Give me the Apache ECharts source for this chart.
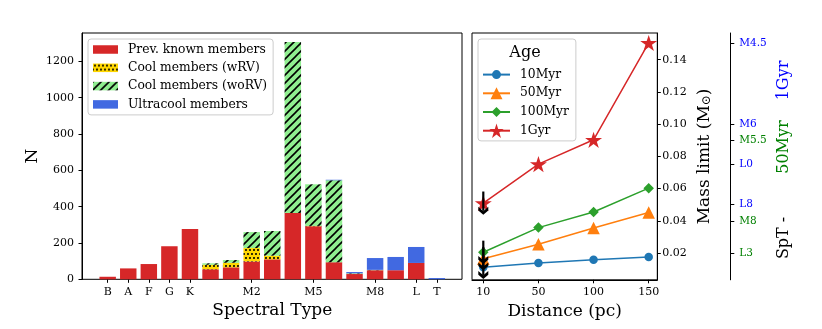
<!DOCTYPE html>
<html><head><meta charset="utf-8">
<script src="https://cdn.jsdelivr.net/npm/echarts@6/dist/echarts.min.js"></script>
<style>html,body{margin:0;padding:0;background:#fff}#c{width:822px;height:329px}</style>
</head><body><div id="c"></div>
<script>
// ---- data: left panel (counts per spectral type) ----
const spectralTypes = ['B','A','F','G','K','M0','M1','M2','M3','M4','M5','M6','M7','M8','M9','L','T'];
const tickTypes = ['B','A','F','G','K','M2','M5','M8','L','T'];
const prevKnown = [14,60,84,182,277,55,66,98,110,365,292,94,29,50,50,90,0];
const coolWRV   = [0,0,0,0,0,25,25,74,20,0,2,0,1,0,0,0,0];
const coolWoRV  = [0,0,0,0,0,8,15,88,136,941,229,451,3,2,0,0,0];
const ultracool = [0,0,0,0,0,0,0,0,0,0,0,3,7,65,73,88,7];
const countTicks = [0,200,400,600,800,1000,1200];

// ---- data: right panel (mass limit vs distance) ----
const distances = ['10','50','100','150'];
const mass10Myr  = [0.0112,0.0138,0.0158,0.0175];
const mass50Myr  = [0.0165,0.0255,0.0355,0.0452];
const mass100Myr = [0.0205,0.0358,0.0455,0.0603];
const mass1Gyr   = [0.051,0.0752,0.0903,0.1504];
const massTicks  = [0.02,0.04,0.06,0.08,0.10,0.12,0.14];

// ---- data: spectral-type twin axis ----
const sptMass   = [0.15,0.10,0.09,0.075,0.05,0.04,0.02];
const sptLabels = ['M4.5','M6','M5.5','L0','L8','M8','L3'];
const sptAge    = ['1Gyr','1Gyr','50Myr','1Gyr','1Gyr','50Myr','50Myr'];

// ---- styles ----
const FONT = 'DejaVu Serif';
const ageColor = {'1Gyr':'#0000ff','50Myr':'#008000'};
function makePattern(bg, draw){
  const c = document.createElement('canvas'); c.width = 8; c.height = 8;
  const g = c.getContext('2d'); g.fillStyle = bg; g.fillRect(0,0,8,8); draw(g);
  return {image: c, repeat: 'repeat'};
}
const dotPattern = makePattern('#ffd700', g => {
  g.fillStyle = '#000';
  [[2,2],[6,2],[0,6],[4,6],[8,6]].forEach(([x,y]) => { g.beginPath(); g.arc(x,y,1.05,0,Math.PI*2); g.fill(); });
});
const stripePattern = makePattern('#90ee90', g => {
  g.strokeStyle = '#000'; g.lineWidth = 1.6; g.beginPath();
  g.moveTo(-1,9); g.lineTo(9,-1); g.moveTo(-1,1); g.lineTo(1,-1); g.moveTo(7,9); g.lineTo(9,7); g.stroke();
});
// marker shapes drawn inside a 100x100 box, shape occupying `r` of it (so legend icons keep relative sizes)
const corners = 'M0,0 L0.01,0 L0,0.01 Z M100,100 L99.99,100 L100,99.99 Z ';
function circleSym(r){ const a = 50*r; return 'path://' + corners + `M${50-a},50 A${a},${a} 0 1,0 ${50+a},50 A${a},${a} 0 1,0 ${50-a},50 Z`; }
function triSym(r){ const a = 50*r; return 'path://' + corners + `M50,${50-a} L${50+a},${50+a} L${50-a},${50+a} Z`; }
function diaSym(r){ const a = 50*r; return 'path://' + corners + `M50,${50-a} L${50+a},50 L50,${50+a} L${50-a},50 Z`; }
const starPath = 'path://M50,0 L61.8,36.2 L100,36.2 L69.1,58.6 L80.9,95.1 L50,72.6 L19.1,95.1 L30.9,58.6 L0,36.2 L38.2,36.2 Z';
const chevronPath = 'path://M0,0 L5,4.5 L10,0 L10,3.8 L5,8.3 L0,3.8 Z';
const arrowUp = 0.0072, arrowHead = 0.0048;

const isTick = (i, v) => tickTypes.indexOf(v) >= 0;
const sptIndex = v => sptMass.findIndex(m => Math.abs(m - Number(v)) < 1e-6);

const barBase = {type:'bar', stack:'n', barWidth:'80%', xAxisIndex:0, yAxisIndex:0};
const lineBase = {type:'line', xAxisIndex:1, yAxisIndex:1, lineStyle:{width:1.5}, symbolKeepAspect:true, z:3};
const massSeries = [mass10Myr, mass50Myr, mass100Myr, mass1Gyr];
const arrows = massSeries.map(arr => ({
  type:'line', xAxisIndex:1, yAxisIndex:1, silent:true, z:6,
  lineStyle:{color:'#000', width:2.2}, itemStyle:{color:'#000'},
  data:[{value:[0, arr[0] + arrowUp], symbol:'none'},
        {value:[0, arr[0] - arrowHead], symbol:chevronPath, symbolSize:[10,8]}]
}));

const axisLineBlack = {show:true, onZero:false, lineStyle:{color:'#000', width:1}};
const tickStyle = {show:true, length:3.5, lineStyle:{color:'#000', width:1}};
const countMax = 1356, massMin = 0.0034, massMax = 0.1566;

const option = {
  animation:false,
  backgroundColor:'#fff',
  textStyle:{fontFamily:FONT},
  grid:[
    {left:97.4, top:33, width:349.7, height:246.3},
    {left:472, top:33, width:185.3, height:246.8, show:true, borderColor:'#000', borderWidth:1},
    {left:82, top:33, width:380, height:246.3, show:true, borderColor:'#000', borderWidth:1}
  ],
  xAxis:[
    {type:'category', gridIndex:0, data:spectralTypes,
     axisLine:{show:false},
     axisTick:Object.assign({alignWithLabel:true, interval:isTick}, tickStyle),
     axisLabel:{interval:isTick, color:'#000', fontSize:11, margin:7, fontFamily:FONT},
     name:'Spectral Type', nameLocation:'middle', nameGap:20,
     nameTextStyle:{fontSize:17, color:'#000', fontFamily:FONT}},
    {type:'value', gridIndex:1, min:-0.205, max:3.156,
     axisLine:axisLineBlack, splitLine:{show:false},
     axisTick:Object.assign({customValues:[0,1,2,3]}, tickStyle),
     axisLabel:{customValues:[0,1,2,3], formatter:v => distances[Math.round(v)], color:'#000', fontSize:11, margin:7, fontFamily:FONT},
     name:'Distance (pc)', nameLocation:'middle', nameGap:20,
     nameTextStyle:{fontSize:17, color:'#000', fontFamily:FONT}},
    {type:'value', gridIndex:2, show:false, min:0, max:1}
  ],
  yAxis:[
    {type:'value', gridIndex:0, min:0, max:countMax, show:false, splitLine:{show:false}},
    {type:'value', gridIndex:1, position:'right', min:massMin, max:massMax,
     axisLine:axisLineBlack, splitLine:{show:false},
     axisTick:Object.assign({customValues:massTicks}, tickStyle),
     axisLabel:{customValues:massTicks, formatter:v => Number(v).toFixed(2), color:'#000', fontSize:11, margin:5, fontFamily:FONT},
     name:'Mass limit (M{sub|⊙})', nameLocation:'middle', nameGap:38,
     nameTextStyle:{fontSize:17, color:'#000', fontFamily:FONT,
       rich:{sub:{fontSize:12, verticalAlign:'bottom', fontFamily:FONT, color:'#000', padding:[6,0,0,0]}}}},
    {type:'value', gridIndex:1, position:'right', offset:73, min:massMin, max:massMax,
     axisLine:axisLineBlack, splitLine:{show:false},
     axisTick:Object.assign({customValues:sptMass}, tickStyle, {length:4}),
     axisLabel:{customValues:sptMass, formatter:v => sptLabels[sptIndex(v)],
       color:v => ageColor[sptAge[sptIndex(v)]], fontSize:10.5, margin:9, fontFamily:FONT},
     name:'{k|SpT -}{g|50Myr}{b|1Gyr}', nameLocation:'middle', nameGap:46,
     nameTextStyle:{fontSize:16, fontFamily:FONT,
       rich:{k:{fontSize:16, color:'#000', fontFamily:FONT},
             g:{fontSize:16, color:'#008000', fontFamily:FONT, padding:[0,0,0,43]},
             b:{fontSize:16, color:'#0000ff', fontFamily:FONT, padding:[0,7,0,20]}}}},
    {type:'value', gridIndex:2, min:0, max:countMax,
     axisLine:axisLineBlack, splitLine:{show:false},
     axisTick:Object.assign({customValues:countTicks}, tickStyle),
     axisLabel:{customValues:countTicks, formatter:v => String(v), color:'#000', fontSize:11, margin:8, fontFamily:FONT},
     name:'N', nameLocation:'middle', nameGap:41,
     nameTextStyle:{fontSize:17, color:'#000', fontFamily:FONT}}
  ],
  legend:[
    {orient:'vertical', left:88, top:39, icon:'rect', itemWidth:25, itemHeight:8.5, itemGap:4.3,
     padding:[3.5,6,3.5,5], backgroundColor:'rgba(255,255,255,0.8)', borderColor:'#cccccc', borderWidth:1, borderRadius:3,
     textStyle:{fontSize:12.3, color:'#000', fontFamily:FONT, lineHeight:14, padding:[0,0,0,5]},
     data:['Prev. known members','Cool members (wRV)','Cool members (woRV)','Ultracool members']},
    {orient:'vertical', left:478, top:39, itemWidth:27, itemHeight:18, itemGap:4.3,
     padding:[28.4,7,3,4], backgroundColor:'rgba(255,255,255,0.8)', borderColor:'#cccccc', borderWidth:1, borderRadius:3,
     textStyle:{fontSize:12.3, color:'#000', fontFamily:FONT, lineHeight:14, padding:[0,0,0,5]},
     data:['10Myr','50Myr','100Myr','1Gyr']}
  ],
  graphic:[
    {type:'text', x:525, y:52.5, z:100,
     style:{text:'Age', fontSize:16, fontFamily:FONT, fill:'#000', align:'center', verticalAlign:'middle'}}
  ],
  series:[
    Object.assign({}, barBase, {name:'Prev. known members', data:prevKnown, itemStyle:{color:'#d62728'}}),
    Object.assign({}, barBase, {name:'Cool members (wRV)', data:coolWRV, itemStyle:{color:dotPattern}}),
    Object.assign({}, barBase, {name:'Cool members (woRV)', data:coolWoRV, itemStyle:{color:stripePattern}}),
    Object.assign({}, barBase, {name:'Ultracool members', data:ultracool, itemStyle:{color:'#4169e1'}}),
    Object.assign({}, lineBase, {name:'10Myr', data:mass10Myr.map((v,i)=>[i,v]), symbol:circleSym(0.625), symbolSize:13.6, color:'#1f77b4', itemStyle:{borderWidth:0}}),
    Object.assign({}, lineBase, {name:'50Myr', data:mass50Myr.map((v,i)=>[i,v]), symbol:triSym(0.833), symbolSize:15, color:'#ff7f0e', itemStyle:{borderWidth:0}}),
    Object.assign({}, lineBase, {name:'100Myr', data:mass100Myr.map((v,i)=>[i,v]), symbol:diaSym(0.7), symbolSize:15, color:'#2ca02c', itemStyle:{borderWidth:0}}),
    Object.assign({}, lineBase, {name:'1Gyr', data:mass1Gyr.map((v,i)=>[i,v]), symbol:starPath, symbolSize:17, color:'#d62728', itemStyle:{borderWidth:0}})
  ].concat(arrows)
};
const chart = echarts.init(document.getElementById('c'), null, {renderer:'canvas'});
chart.setOption(option);
</script></body></html>
